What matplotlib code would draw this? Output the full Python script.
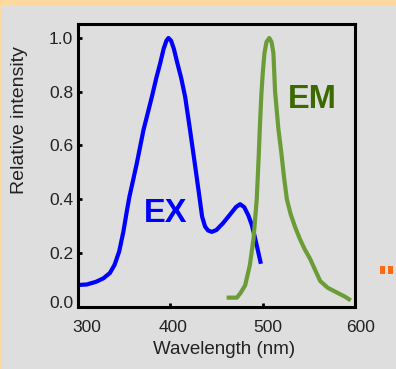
import matplotlib
matplotlib.use('Agg')
import matplotlib.pyplot as plt
from matplotlib.patches import Rectangle
from matplotlib.transforms import ScaledTranslation

plt.rcParams['font.family'] = ['Liberation Sans', 'DejaVu Sans']

# excitation spectrum (blue)
ex_nm = [300, 310, 320, 328, 335, 340, 345, 349.6, 353, 356.1, 360, 364,
         371.2, 380.3, 385, 389.2, 393, 396, 398.2, 401, 404, 407.9, 412,
         416.2, 421.5, 426.6, 431.6, 434.5, 437.7, 441, 445, 450, 457, 465,
         471, 475.5, 480, 484.6, 488, 491, 494, 498]
ex_val = [0.08, 0.082, 0.092, 0.105, 0.125, 0.155, 0.205, 0.28, 0.35, 0.41,
          0.47, 0.533, 0.657, 0.781, 0.85, 0.905, 0.96, 0.99, 1.0, 0.99,
          0.96, 0.905, 0.85, 0.781, 0.657, 0.533, 0.409, 0.335, 0.298,
          0.283, 0.278, 0.285, 0.31, 0.344, 0.37, 0.381, 0.37, 0.338, 0.305,
          0.265, 0.22, 0.159]

# emission spectrum (green)
em_nm = [461, 472, 476, 481, 486, 490, 493.5, 495.5, 497, 498.5, 500,
         501.8, 504, 507, 509.5, 511.5, 513.3, 516.9, 520, 523, 526, 530,
         535, 540, 545, 551, 556, 562, 570, 580, 588, 595]
em_val = [0.033, 0.033, 0.05, 0.079, 0.153, 0.252, 0.40, 0.55, 0.68, 0.79,
          0.87, 0.943, 0.985, 1.0, 0.985, 0.943, 0.80, 0.66, 0.574, 0.48,
          0.40, 0.345, 0.295, 0.252, 0.215, 0.178, 0.14, 0.095, 0.07, 0.052,
          0.038, 0.023]

x_ticks = [300, 400, 500, 600]
y_ticks = [0.0, 0.2, 0.4, 0.6, 0.8, 1.0]

bg = '#dedede'
fig = plt.figure(figsize=(3.96, 3.69), dpi=100, facecolor=bg)

# orange frame strips at top and left edge
fig.patches.append(Rectangle((0, 1 - 5 / 369), 1, 5 / 369, transform=fig.transFigure,
                             facecolor='#fed99d', edgecolor='none'))
fig.patches.append(Rectangle((0, 0), 2 / 396, 1, transform=fig.transFigure,
                             facecolor='#fed99d', edgecolor='none'))
# small orange marks on the right
for x0 in (380, 388):
    fig.patches.append(Rectangle((x0 / 396, 1 - 274 / 369), 4.5 / 396, 8 / 369,
                                 transform=fig.transFigure,
                                 facecolor='#ff6a10', edgecolor='none'))

ax = fig.add_axes([77.5 / 396, 1 - 306.5 / 369, (355.4 - 77.5) / 396, (306.5 - 23.5) / 369])
ax.set_facecolor(bg)

ax.plot(ex_nm, ex_val, color='#0000ff', lw=3, solid_joinstyle='round', solid_capstyle='butt')
ax.plot(em_nm, em_val, color='#6b9c37', lw=3, solid_joinstyle='round', solid_capstyle='butt')

ax.text(394.9, 0.315, 'EX', color='#0000ff', fontsize=23.5, fontweight='bold',
        ha='center', va='baseline')
ax.text(554, 0.738, 'EM', color='#3d6a00', fontsize=23.5, fontweight='bold',
        ha='center', va='baseline')

ax.set_xlim(300, 600)
ax.set_ylim(0, 1.054)
ax.set_xticks(x_ticks)
ax.set_yticks(y_ticks)
ax.set_xticklabels([str(t) for t in x_ticks])
ax.set_yticklabels(['%.1f' % t for t in y_ticks])

for s in ax.spines.values():
    s.set_linewidth(2.2)
    s.set_color('black')

ax.tick_params(direction='in', length=3, width=2, colors='black',
               labelcolor='#222222', labelsize=12.5)
ax.tick_params(axis='x', pad=10)
ax.tick_params(axis='y', pad=3)

ax.set_xlabel('Wavelength (nm)', fontsize=13.5, color='#222222')
ax.set_ylabel('Relative intensity', fontsize=14, color='#222222')
ax.xaxis.set_label_coords((224 - 77.5) / 278, (306.5 - 341) / 283)
ax.yaxis.set_label_coords((28 - 77.5) / 278, (306.5 - 120) / 283)

# nudge a few tick labels like the original
fig.canvas.draw()
shifts = [9, 3, 5, 5]
for lab, dx in zip(ax.get_xticklabels(), shifts):
    lab.set_transform(lab.get_transform() + ScaledTranslation(dx / 100, 0, fig.dpi_scale_trans))
ylabs = ax.get_yticklabels()
ylabs[0].set_transform(ylabs[0].get_transform() + ScaledTranslation(0, 5 / 100, fig.dpi_scale_trans))

fig.savefig('out.png', dpi=100, facecolor=bg)
